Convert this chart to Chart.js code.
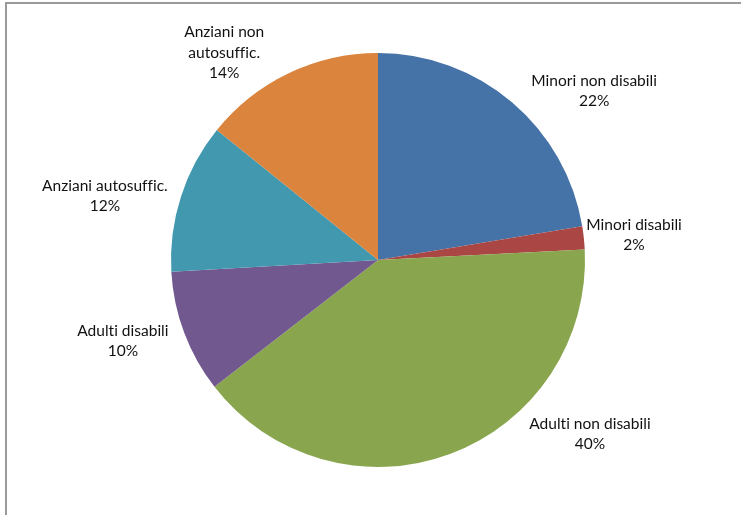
<!DOCTYPE html>
<html>
<head>
<meta charset="utf-8">
<script src="https://cdn.jsdelivr.net/npm/chart.js@4/dist/chart.umd.min.js"></script>
<style>
  html, body { margin: 0; padding: 0; background: #fff; }
  canvas { display: block; }
</style>
</head>
<body>
<canvas id="pie" width="741" height="515"></canvas>
<script>
// Categories, clockwise from 12 o'clock
const categories = [
  'Minori non disabili',
  'Minori disabili',
  'Adulti non disabili',
  'Adulti disabili',
  'Anziani autosuffic.',
  ['Anziani non', 'autosuffic.']
]

// Shares (%)
const shares = [22.4, 1.8, 40.3, 9.6, 11.7, 14.2]

const sliceColors = ['#4572A7', '#AA4643', '#89A54E', '#71588F', '#4198AF', '#DB843D']

// Where each label block sits: [angle from top in degrees, distance as a factor of the radius]
const labelPlacement = [
  [52.0, 1.325],
  [84.4, 1.243],
  [129.4, 1.325],
  [252.4, 1.293],
  [283.2, 1.355],
  [323.4, 1.246]
]

// grey frame on the left and top edges
const frame = {
  id: 'frame',
  beforeDraw(chart) {
    const ctx = chart.ctx
    ctx.save()
    ctx.fillStyle = '#9a9a9a'
    ctx.fillRect(5, 2, 2, chart.height - 2)
    ctx.fillRect(5, 2, chart.width - 5, 2)
    ctx.restore()
  }
}

// text labels: category name and rounded percent
const pieLabels = {
  id: 'pieLabels',
  afterDatasetsDraw(chart) {
    const ctx = chart.ctx
    const meta = chart.getDatasetMeta(0)
    const values = chart.data.datasets[0].data
    const total = values.reduce((a, b) => a + b, 0)
    const lineH = 20.5

    ctx.save()
    ctx.font = '15.5px Lato, "Open Sans", sans-serif'
    ctx.fillStyle = '#111'
    ctx.textAlign = 'center'
    ctx.textBaseline = 'middle'
    // tiny spacing keeps Lato from joining "ti" / "ffi" into ligatures
    if ('letterSpacing' in ctx) ctx.letterSpacing = '0.01px'

    meta.data.forEach((arc, i) => {
      const { x, y, outerRadius } = arc.getProps(['x', 'y', 'outerRadius'], true)
      const [deg, f] = labelPlacement[i]
      const a = deg * Math.PI / 180
      const cx = x + Math.sin(a) * outerRadius * f
      const cy = y - Math.cos(a) * outerRadius * f

      const name = chart.data.labels[i]
      const lines = (Array.isArray(name) ? name.slice() : [name])
      lines.push(Math.round(values[i] / total * 100) + '%')

      const top = cy - (lines.length - 1) * lineH / 2
      lines.forEach((t, k) => ctx.fillText(t, cx, top + k * lineH))
    })
    ctx.restore()
  }
}

new Chart(document.getElementById('pie'), {
  type: 'pie',
  data: {
    labels: categories,
    datasets: [{
      data: shares,
      backgroundColor: sliceColors,
      borderWidth: 0
    }]
  },
  options: {
    responsive: false,
    animation: false,
    layout: {
      padding: { left: 171, right: 156, top: 53, bottom: 48 }
    },
    plugins: {
      legend: { display: false },
      tooltip: { enabled: false }
    }
  },
  plugins: [frame, pieLabels]
})
</script>
</body>
</html>
